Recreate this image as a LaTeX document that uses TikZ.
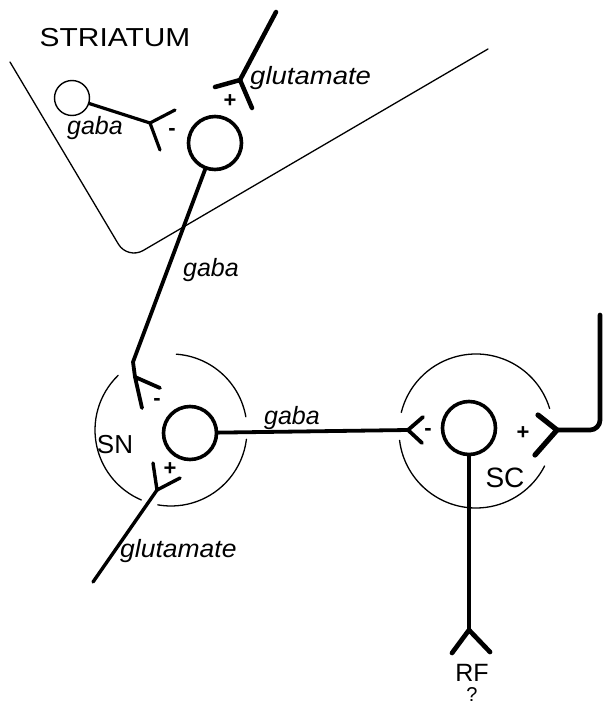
\documentclass[tikz,border=0pt]{standalone}
\usepackage{fontspec}
\setmainfont{Liberation Sans}
\begin{document}
\begin{tikzpicture}[x=1pt,y=-1pt,
  thinline/.style={line width=1.3pt, line cap=round},
  axon/.style={line width=3.8pt, line cap=round, line join=round},
  neuron/.style={circle, draw, line width=3.6pt, inner sep=0pt, minimum size=53pt},
  smallneuron/.style={circle, draw, line width=1.4pt, inner sep=0pt, minimum size=35pt},
  lbl/.style={font=\fontsize{25}{25}\selectfont\itshape, inner sep=0pt},
  region/.style={font=\fontsize{26}{26}\selectfont, inner sep=0pt},
  sign/.style={font=\fontsize{22}{22}\selectfont\bfseries, inner sep=0pt}]
\useasboundingbox (0,0) rectangle (604,709);

% striatum
\node[region, xscale=1.15] (striatum) at (115,38) {STRIATUM};
\coordinate (bL) at (10,62);
\coordinate (bC) at (127.6,259.6);
\coordinate (bR) at (488,49);
\draw[thinline, rounded corners=18pt] (bL) -- (bC) -- (bR);

% neurons
\node[smallneuron] (s2) at (72,98) {};
\node[neuron] (s1) at (215,143) {};
\node[neuron] (sn) at (190,433) {};
\node[neuron] (sc) at (469,428) {};

% terminals (apex and arm ends)
\coordinate (t1) at (150,123); \coordinate (t1a) at (175,110); \coordinate (t1b) at (160,150);
\coordinate (gin) at (276,12);
\coordinate (t2) at (240,80); \coordinate (t2a) at (215,87); \coordinate (t2b) at (252,108);
\coordinate (bend1) at (133,362);
\coordinate (t3) at (135,377); \coordinate (t3a) at (142,408); \coordinate (t3b) at (160,388);
\coordinate (gin2) at (93,582);
\coordinate (t4) at (157,490); \coordinate (t4a) at (153,463); \coordinate (t4b) at (180,478);
\coordinate (t5) at (408,430); \coordinate (t5a) at (423,417); \coordinate (t5b) at (422,443);
\coordinate (rin) at (600,315); \coordinate (rcorner) at (600,430);
\coordinate (t6) at (557,430); \coordinate (t6a) at (538,415); \coordinate (t6b) at (535,455);
\coordinate (t7) at (469,630); \coordinate (t7a) at (452,653); \coordinate (t7b) at (490,652);

% striatal gaba interneuron
\draw[axon, line width=3.2pt] (s2) -- (t1);
\draw[axon, line width=3.2pt] (t1a) -- (t1) -- (t1b);
\node[sign] (m1) at (172,132) {-};
\node[lbl] (gaba1) at (95,128) {gaba};

% glutamate into striatum
\draw[axon, line width=4.5pt] (gin) -- (t2);
\draw[axon, line width=4.5pt] (t2a) -- (t2) -- (t2b);
\node[sign] (p1) at (230,101) {+};
\node[lbl, anchor=west, xscale=1.1] (glu1) at (250,78) {glutamate};

% striatum -> SN
\draw[axon] (s1) -- (bend1) -- (t3);
\draw[axon] (t3a) -- (t3) -- (t3b);
\node[sign] (m2) at (157,402) {-};
\node[lbl] (gaba2) at (211,270) {gaba};

% SN region
\draw[thinline] (171,430) ++(10:76pt) arc[start angle=10, end angle=86, radius=76pt];
\draw[thinline] (171,430) ++(134:76pt) arc[start angle=134, end angle=247, radius=76pt];
\draw[thinline] (171,430) ++(260:76pt) arc[start angle=260, end angle=353, radius=76pt];
\node[region] (snlbl) at (115,445) {SN};

% glutamate into SN
\draw[axon, line width=3.4pt] (gin2) -- (t4);
\draw[axon, line width=3.4pt] (t4a) -- (t4) -- (t4b);
\node[sign] (p2) at (170,469) {+};
\node[lbl, anchor=west, xscale=1.06] (glu2) at (120,551) {glutamate};

% SN -> SC
\draw[axon] (sn) -- (t5);
\draw[axon] (t5a) -- (t5) -- (t5b);
\node[sign] (m3) at (428,432) {-};
\node[lbl] (gaba3) at (292,418) {gaba};

% SC region
\draw[thinline] (476,431) ++(17:77pt) arc[start angle=17, end angle=166, radius=77pt];
\draw[thinline] (476,431) ++(187:77pt) arc[start angle=187, end angle=333, radius=77pt];
\node[region, font=\fontsize{28}{28}\selectfont] (sclbl) at (505,478) {SC};

% input into SC
\draw[axon, line width=4.7pt, rounded corners=10pt] (rin) -- (rcorner) -- (t6);
\draw[axon, line width=5.2pt] (t6a) -- (t6) -- (t6b);
\node[sign] (p3) at (523,433) {+};

% SC -> RF
\draw[axon, line width=4.2pt] (sc) -- (t7);
\draw[axon, line width=4.7pt] (t7a) -- (t7) -- (t7b);
\node[region, font=\fontsize{25}{25}\selectfont] (rf) at (472,673) {RF};
\node[region, font=\fontsize{20}{20}\selectfont] (q) at (472,695) {?};
\end{tikzpicture}
\end{document}
